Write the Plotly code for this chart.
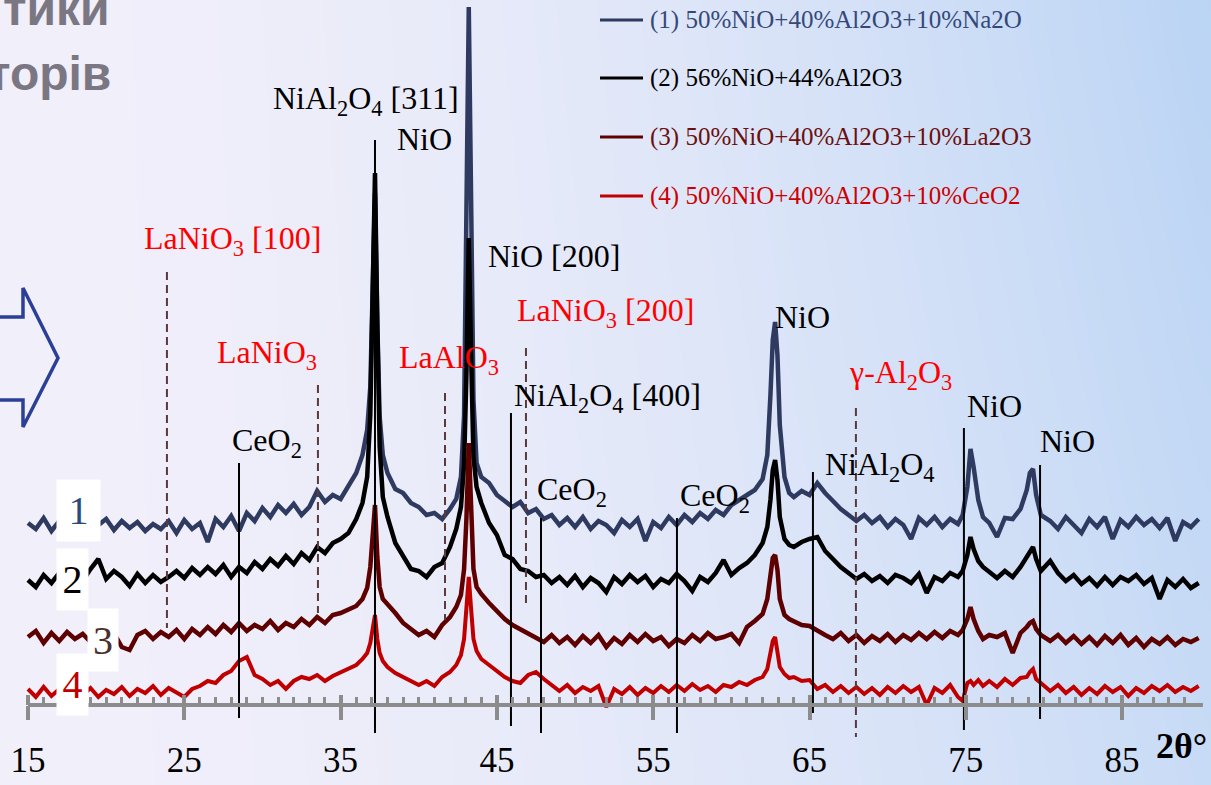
import numpy as np
import plotly.graph_objects as go

W, H = 1211, 785
PX0, PXD = 28.0, 15.63          # pixel of 15 deg, pixels per degree
X_LO = 15 - PX0 / PXD
X_HI = 15 + (W - PX0) / PXD
Y_LO, Y_HI = -80, 705


def px(x):
    return x / W


def py(y):
    return 1 - y / H


# ---------------- data (2theta in degrees, intensity in a.u., stacked) ----------------
two_theta = [
    15.0, 15.5, 16.0, 16.5, 17.0, 17.5, 18.0, 18.5, 19.0, 19.5,
    20.0, 20.5, 21.0, 21.5, 22.0, 22.5, 23.0, 23.5, 24.0, 24.5,
    25.0, 25.5, 26.0, 26.5, 27.0, 27.5, 28.0, 28.5, 29.0, 29.5,
    30.0, 30.5, 31.0, 31.5, 32.0, 32.5, 33.0, 33.5, 34.0, 34.5,
    35.0, 35.5, 36.0,
    36.4, 36.7, 36.9, 37.05, 37.2, 37.35, 37.5, 37.7, 38.0,
    38.5, 39.0, 39.5, 40.0, 40.5, 41.0, 41.5, 42.0,
    42.4, 42.7, 42.9, 43.05, 43.2, 43.35, 43.5, 43.7, 44.0,
    44.5, 45.0, 45.5, 46.0, 46.5, 47.0, 47.5, 48.0, 48.5, 49.0,
    49.5, 50.0, 50.5, 51.0, 51.5, 52.0, 52.5, 53.0, 53.5, 54.0,
    54.5, 55.0, 55.5, 56.0, 56.5, 57.0, 57.5, 58.0, 58.5, 59.0,
    59.5, 60.0, 60.5, 61.0, 61.5,
    62.0, 62.3, 62.5, 62.65, 62.8, 62.95, 63.1, 63.4, 63.7,
    64.0, 64.5, 65.0, 65.5, 66.0, 66.5, 67.0, 67.5, 68.0, 68.5,
    69.0, 69.5, 70.0, 70.5, 71.0, 71.5, 72.0, 72.5, 73.0, 73.5,
    74.0, 74.5,
    74.8, 75.1, 75.3, 75.5, 75.8, 76.1,
    76.5, 77.0, 77.5, 78.0, 78.5,
    78.9, 79.1, 79.3, 79.5, 79.8,
    80.4, 80.9, 81.4, 81.9, 82.4, 82.9, 83.4, 83.9, 84.4, 84.9,
    85.4, 85.9, 86.4, 86.9, 87.4, 87.9, 88.4, 88.9, 89.4, 89.9,
]

s1_na2o = [
    182, 176, 187, 174, 184, 166, 186, 178, 190, 180,
    186, 175, 184, 177, 183, 174, 181, 176, 184, 172,
    185, 176, 182, 163, 186, 178, 189, 174, 192, 184,
    197, 188, 200, 192, 201, 190, 198, 214, 203, 210,
    206, 218, 232,
    250, 275, 318, 410, 512, 380, 288, 250, 232,
    216, 212, 202, 198, 190, 192, 186, 196,
    206, 228, 290, 460, 698, 505, 305, 242, 228,
    222, 210, 204, 198, 203, 192, 196, 186, 190, 180,
    187, 178, 188, 176, 184, 180, 172, 185, 178, 186,
    164, 183, 177, 188, 180, 190, 183, 192, 186, 195,
    190, 200, 205, 210, 215,
    226, 250, 310, 365, 383, 350, 280, 228, 212,
    208, 214, 210, 222, 212, 204, 196, 190, 184, 190,
    182, 188, 178, 186, 180, 166, 187, 180, 188, 178,
    186, 181,
    190, 218, 256, 238, 205, 188,
    182, 168, 187, 186, 196,
    215, 232, 236, 210, 190,
    184, 176, 188, 180, 172, 186, 178, 188, 166, 185,
    178, 188, 180, 186, 177, 187, 164, 183, 178, 186,
]

s2_base = [
    125, 118, 130, 122, 132, 118, 130, 124, 136, 146,
    126, 134, 128, 119, 131, 122, 130, 123, 128, 134,
    127, 137, 130, 138, 131, 140, 128, 138, 132, 143,
    136, 146, 139, 149, 141, 152, 145, 158, 152, 162,
    166, 172, 186,
    202, 228, 290, 410, 532, 380, 258, 208, 188,
    162, 148, 136, 134, 128, 138, 142, 158,
    176, 198, 240, 330, 467, 350, 248, 218, 202,
    182, 170, 150, 146, 136, 134, 128, 130, 122, 128,
    120, 129, 118, 127, 122, 113, 128, 121, 130, 123,
    129, 118, 126, 122, 131, 124, 114, 128, 123, 132,
    145, 130, 137, 142, 150,
    162, 178, 205, 235, 245, 225, 188, 166, 160,
    158, 163, 166, 168, 154, 146, 138, 132, 126, 131,
    124, 129, 122, 130, 127, 122, 131, 112, 128, 124,
    132, 128,
    134, 150, 168, 156, 144, 138,
    133, 127, 134, 128, 138,
    148, 154, 158, 146, 134,
    144, 132, 124, 130, 121, 127, 119, 128, 120, 128,
    124, 130, 121, 127, 106, 125, 118, 126, 117, 122,
]

s3_la2o3 = [
    68, 74, 62, 72, 64, 73, 66, 71, 63, 70,
    65, 72, 58, 55, 70, 74, 66, 73, 68, 75,
    66, 76, 70, 78, 71, 80, 73, 82, 74, 80,
    76, 84, 75, 82, 78, 86, 80, 88, 82, 90,
    92, 96, 99,
    106, 117, 138, 168, 200, 148, 118, 106, 101,
    92, 82, 76, 70, 74, 68, 80, 88,
    98, 110, 136, 186, 262, 206, 136, 118, 111,
    102, 94, 86, 80, 76, 72, 68, 63, 70, 62,
    68, 60, 69, 62, 70, 58, 67, 61, 70, 63,
    71, 64, 68, 59, 66, 62, 70, 64, 72, 66,
    68, 71, 62, 78, 84,
    91, 106, 130, 147, 150, 135, 106, 90, 86,
    84, 80, 79, 74, 70, 66, 72, 64, 70, 62,
    69, 64, 71, 63, 70, 65, 72, 66, 73, 67,
    74, 70,
    75, 86, 98, 86, 74, 66,
    70, 68, 72, 52, 72,
    78, 82, 84, 76, 70,
    64, 70, 62, 69, 61, 68, 60, 69, 62, 70,
    60, 67, 58, 66, 61, 68, 60, 66, 63, 67,
]

s4_ceo2 = [
    16, 8, 18, 9, 16, 7, 15, 10, 17, 8,
    15, 11, 18, 9, 16, 12, 19, 10, 17, 12,
    8, 16, 19, 24, 22, 30, 34, 44, 48, 30,
    26, 20, 24, 16, 24, 28, 26, 30, 24, 29,
    33, 36, 40,
    46, 52, 62, 78, 90, 66, 52, 44, 38,
    32, 28, 24, 20, 24, 19, 28, 33,
    40, 50, 66, 95, 128, 96, 66, 54, 46,
    40, 34, 28, 24, 22, 30, 33, 26, 20, 14,
    20, 12, 18, 14, 19, -2, 16, 11, 18, 10,
    17, 12, 19, 13, 20, 14, 21, 15, 19, 13,
    20, 18, 23, 20, 25,
    28, 36, 50, 64, 68, 55, 38, 31, 27,
    28, 24, 25, 16, 20, 13, 19, 12, 18, 11,
    17, 10, 18, 12, 19, 13, 18, 0, 17, 12,
    20, 8,
    4, 22, 24, 20, 25, 19,
    24, 18, 26, 20, 27,
    28, 33, 36, 26, 22,
    14, 20, 12, 18, 10, 17, 11, 19, 13, 18,
    9, 17, 12, 19, 14, 20, 13, 18, 14, 19,
]

for s in (s1_na2o, s2_base, s3_la2o3, s4_ceo2):
    assert len(s) == len(two_theta), (len(s), len(two_theta))

series_names = [
    "(1) 50%NiO+40%Al2O3+10%Na2O",
    "(2) 56%NiO+44%Al2O3",
    "(3) 50%NiO+40%Al2O3+10%La2O3",
    "(4) 50%NiO+40%Al2O3+10%CeO2",
]
series_colors = ["#2e3a5f", "#000000", "#5e0000", "#c00000"]
series_widths = [4.5, 4.5, 4.5, 4]
legend_text_colors = ["#34497a", "#000000", "#6b0f0f", "#cc0000"]

# reference phase lines (2theta, top, bottom in intensity units)
solid_pos = [28.50, 37.20, 45.90, 47.82, 56.52, 65.22, 74.88, 79.75]
solid_top = [242, 565, 292, 187, 187, 233, 277, 240]
solid_bot = [-13, -28, -21, -28, -28, -8, -25, -14]
dashed_pos = [23.89, 33.55, 41.68, 46.86, 67.97]
dashed_top = [433, 320, 312, 357, 297]
dashed_bot = [77, 92, 85, 97, -32]

major_ticks = [15, 25, 35, 45, 55, 65, 75, 85]
minor_ticks = [v for v in range(16, 90) if v not in major_ticks]
axis_end = 90.17

# ---------------- figure ----------------
fig = go.Figure()

# background gradient (style only)
gx = np.linspace(X_LO - 1, X_HI + 1, 42)
gy = np.linspace(Y_LO - 20, Y_HI + 20, 14)
fx = np.clip((gx - X_LO) / (X_HI - X_LO), 0, 1)
fy_top = np.clip((Y_HI - gy) / (Y_HI - Y_LO), 0, 1)
gz = [[min(1.0, (f ** 1.8) * (1 - 0.25 * t)) for f in fx] for t in fy_top]
fig.add_trace(go.Heatmap(
    x=gx, y=gy, z=gz, zmin=0, zmax=1, zsmooth="best", showscale=False,
    colorscale=[[0, "rgb(241,239,250)"], [1, "rgb(186,212,244)"]],
    hoverinfo="skip",
))

for vals, col, lw, name in zip([s1_na2o, s2_base, s3_la2o3, s4_ceo2],
                               series_colors, series_widths, series_names):
    fig.add_trace(go.Scatter(
        x=two_theta, y=vals, mode="lines", name=name,
        line=dict(color=col, width=lw),
        hoverinfo="skip", showlegend=False,
    ))

lx, ly = [], []
for p, t, b in zip(solid_pos, solid_top, solid_bot):
    lx += [p, p, None]
    ly += [t, b, None]
fig.add_trace(go.Scatter(x=lx, y=ly, mode="lines", line=dict(color="black", width=2),
                         hoverinfo="skip", showlegend=False))
dx, dy = [], []
for p, t, b in zip(dashed_pos, dashed_top, dashed_bot):
    dx += [p, p, None]
    dy += [t, b, None]
fig.add_trace(go.Scatter(x=dx, y=dy, mode="lines",
                         line=dict(color="#5a3a3c", width=2, dash="8px,5px"),
                         hoverinfo="skip", showlegend=False))

# axis baseline
fig.add_trace(go.Scatter(x=[15, axis_end], y=[0, 0], mode="lines",
                         line=dict(color="#8c8c8c", width=4),
                         hoverinfo="skip", showlegend=False))
# dummy trace for overlay axis
fig.add_trace(go.Scatter(x=[15], y=[None], xaxis="x2", yaxis="y", mode="lines",
                         hoverinfo="skip", showlegend=False))

axis_pos = (0 - Y_LO) / (Y_HI - Y_LO)
fig.update_layout(
    width=W, height=H,
    margin=dict(l=0, r=0, t=0, b=0),
    paper_bgcolor="#efedf9",
    plot_bgcolor="rgba(0,0,0,0)",
    showlegend=False,
    xaxis=dict(
        range=[X_LO, X_HI], domain=[0, 1], anchor="free", position=axis_pos,
        showline=False, showgrid=False, zeroline=False,
        tickmode="array", tickvals=major_ticks, ticktext=[str(v) for v in major_ticks],
        ticks="outside", ticklen=14, tickwidth=4, tickcolor="#8c8c8c",
        tickfont=dict(family="Liberation Serif", size=35, color="black"),
        ticklabelstandoff=10,
        minor=dict(tickmode="array", tickvals=minor_ticks, ticks="inside",
                   ticklen=8, tickwidth=3, tickcolor="#8c8c8c"),
    ),
    xaxis2=dict(
        range=[X_LO, X_HI], overlaying="x", anchor="free", position=axis_pos,
        showline=False, showgrid=False, zeroline=False, showticklabels=False,
        tickmode="array", tickvals=major_ticks,
        ticks="inside", ticklen=10, tickwidth=4, tickcolor="#8c8c8c",
    ),
    yaxis=dict(range=[Y_LO, Y_HI], domain=[0, 1], visible=False, fixedrange=True),
)

ann = []
SERIF = "Liberation Serif"


def text(t, x, y, color="black", size=32, xanchor="left", family=SERIF):
    ann.append(dict(text=t, x=px(x), y=py(y), xref="paper", yref="paper",
                    xanchor=xanchor, yanchor="middle", showarrow=False,
                    font=dict(family=family, size=size, color=color)))


RED = "#ff0000"
text("NiAl<sub>2</sub>O<sub>4</sub> [311]", 461, 101, xanchor="right")
text("NiO", 395, 139)
text("NiO [200]", 486, 256)
text("LaNiO<sub>3</sub> [100]", 142, 241, RED)
text("LaNiO<sub>3</sub>", 215, 354, RED)
text("LaAlO<sub>3</sub>", 397, 359, RED)
text("LaNiO<sub>3</sub> [200]", 515, 312, RED)
text("NiAl<sub>2</sub>O<sub>4</sub> [400]", 512, 397)
text("NiO", 773, 317)
text("γ-Al<sub>2</sub>O<sub>3</sub>", 847, 374, RED)
text("NiAl<sub>2</sub>O<sub>4</sub>", 823, 466)
text("NiO", 965, 406)
text("NiO", 1038, 441)
text("CeO<sub>2</sub>", 230, 442)
text("CeO<sub>2</sub>", 535, 491)
text("CeO<sub>2</sub>", 678, 497)
text("<b>2θ°</b>", 1181, 746, size=36, xanchor="center")

# legend
legend_y = [20, 78, 137, 196]
shapes = []
for nm, lc, tc, yy in zip(series_names, series_colors, legend_text_colors, legend_y):
    shapes.append(dict(type="line", xref="paper", yref="paper", x0=px(600), x1=px(643),
                       y0=py(yy), y1=py(yy), line=dict(color=lc, width=3)))
    text(nm, 648, yy, tc, size=25)

# series number boxes
boxes = [("1", 78.5, 510.5, 43, 61, "#2b4a7a"),
         ("2", 72.5, 579.5, 31, 61, "#000000"),
         ("3", 103, 640, 30, 62, "#4a2f2f"),
         ("4", 72.5, 684.5, 31, 61, "#c00000")]
for t, cx, cy, bw, bh, c in boxes:
    ann.append(dict(text=t, x=px(cx), y=py(cy), xref="paper", yref="paper",
                    xanchor="center", yanchor="middle", showarrow=False,
                    width=bw, height=bh, bgcolor="white", borderpad=0, valign="middle",
                    font=dict(family=SERIF, size=40, color=c)))

# cropped slide title fragments
text("<b>тики</b>", 112, 8, "#7a7682", size=48, xanchor="right", family="Liberation Sans")
text("<b>торів</b>", 113, 74, "#7a7682", size=48, xanchor="right", family="Liberation Sans")

# arrow outline
pts = [(-5, 317), (23, 317), (23, 288), (58, 358), (23, 427), (23, 400), (-5, 400)]
path = "M " + " L ".join(f"{px(a):.5f},{py(b):.5f}" for a, b in pts)
shapes.append(dict(type="path", xref="paper", yref="paper", path=path,
                   line=dict(color="#2b3f96", width=3.5), fillcolor="rgba(0,0,0,0)"))

fig.update_layout(annotations=ann, shapes=shapes)
fig.write_html(
    "out.html",
    config={"displayModeBar": False},
    post_script="document.body.style.margin='0';document.body.style.overflow='hidden';",
)
